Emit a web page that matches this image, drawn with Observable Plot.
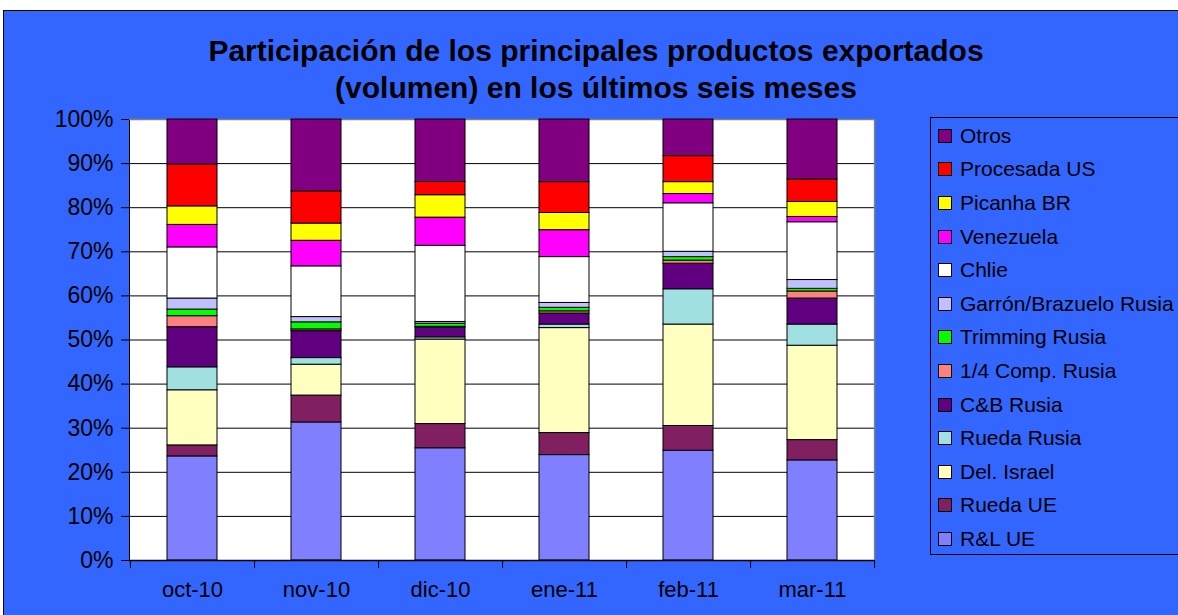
<!DOCTYPE html>
<html>
<head>
<meta charset="utf-8">
<script src="https://cdn.jsdelivr.net/npm/d3@7"></script>
<script src="https://cdn.jsdelivr.net/npm/@observablehq/plot@0.6"></script>
<style>
  html, body { margin: 0; padding: 0; background: #ffffff; overflow: hidden; }
  #wrap { position: relative; width: 1178px; height: 615px; overflow: hidden; font-family: "Liberation Sans", Arial, sans-serif; }
  #bg { position: absolute; left: 3px; top: 10px; width: 1200px; height: 620px; background: #3366FF; border: 1px solid #000; box-sizing: border-box; }
  #title { position: absolute; left: 0; top: 32px; width: 1192px; text-align: center; font-weight: bold; font-size: 30px; line-height: 37px; color: #000; }
  #chart { position: absolute; left: 0; top: 0; }
  #legend { position: absolute; left: 930px; top: 117px; width: 260px; height: 438px; border: 1px solid #000; box-sizing: border-box; padding-top: 1px; }
  .row { height: 33.6px; display: flex; align-items: center; font-size: 21px; color: #000; white-space: nowrap; }
  .sw { width: 12px; height: 12px; border: 1px solid #000; margin-left: 7px; margin-right: 8px; flex: none; }
</style>
</head>
<body>
<div id="wrap">
  <div id="bg"></div>
  <div id="chart"></div>
  <div id="title">Participación de los principales productos exportados<br>(volumen) en los últimos seis meses</div>
  <div id="legend"></div>
</div>
<script>
// Categories (months)
const months = ["oct-10", "nov-10", "dic-10", "ene-11", "feb-11", "mar-11"];
// Series, bottom to top (%)
const seriesNames = ["R&L UE", "Rueda UE", "Del. Israel", "Rueda Rusia", "C&B Rusia", "1/4 Comp. Rusia",
  "Trimming Rusia", "Garrón/Brazuelo Rusia", "Chlie", "Venezuela", "Picanha BR", "Procesada US", "Otros"];
const rlUE       = [23.6, 31.3, 25.5, 23.9, 24.9, 22.7];
const ruedaUE    = [2.5, 6.1, 5.5, 5.0, 5.6, 4.6];
const delIsrael  = [12.5, 7.0, 19.2, 23.8, 23.0, 21.4];
const ruedaRusia = [5.2, 1.5, 0.5, 0.8, 8.0, 4.8];
const cbRusia    = [9.1, 6.1, 2.2, 2.5, 5.8, 5.9];
const compRusia  = [2.5, 0.4, 0.2, 0.5, 0.7, 1.6];
const trimming   = [1.5, 1.6, 0.7, 0.8, 0.8, 0.6];
const garron     = [2.5, 1.2, 0.4, 1.1, 1.2, 2.0];
const chlie      = [11.6, 11.5, 17.3, 10.4, 11.0, 13.1];
const venezuela  = [5.1, 5.8, 6.4, 6.1, 2.1, 1.2];
const picanha    = [4.2, 3.9, 5.1, 3.9, 2.7, 3.4];
const procesada  = [9.5, 7.3, 3.0, 7.0, 5.9, 5.1];
const otros      = [10.2, 16.3, 14.2, 14.2, 8.3, 13.6];
const seriesValues = [rlUE, ruedaUE, delIsrael, ruedaRusia, cbRusia, compRusia, trimming, garron, chlie, venezuela, picanha, procesada, otros];
const seriesColors = ["#8080FF", "#802060", "#FFFFC0", "#A0E0E0", "#600080", "#FF8080",
  "#00FF00", "#C0C0FF", "#FFFFFF", "#FF00FF", "#FFFF00", "#FF0000", "#800080"];
const yTicks = [0, 0.1, 0.2, 0.3, 0.4, 0.5, 0.6, 0.7, 0.8, 0.9, 1.0];

const data = [];
seriesNames.forEach((s, si) => {
  months.forEach((m, mi) => {
    // normalise each month to 100%
    const total = seriesValues.reduce((a, arr) => a + arr[mi], 0);
    data.push({month: m, series: s, value: seriesValues[si][mi] / total});
  });
});

const W = 1178, H = 615, mL = 129, mR = 304, mT = 119, mB = 55;
const plotH = H - mT - mB;
const step = (W - mL - mR) / months.length;

const chart = Plot.plot({
  width: W, height: H,
  marginLeft: mL, marginRight: mR, marginTop: mT, marginBottom: mB,
  style: {background: "transparent", fontFamily: "Liberation Sans, Arial, sans-serif", fontSize: "22px", color: "#000", overflow: "visible"},
  x: {domain: months, paddingInner: 0.6, paddingOuter: 0.3, label: null, tickSize: 0, tickPadding: 21},
  y: {domain: [0, 1], ticks: yTicks, tickFormat: d3.format(".0%"), label: null, tickSize: 8, tickPadding: 8},
  color: {domain: seriesNames, range: seriesColors},
  marks: [
    Plot.frame({fill: "white", stroke: "#000"}),
    Plot.ruleY(yTicks.slice(1, -1), {stroke: "#000", strokeWidth: 1}),
    Plot.ruleY([1], {stroke: "#808080", strokeWidth: 1.5}),
    Plot.ruleX([months[months.length - 1]], {dx: step / 2, stroke: "#808080", strokeWidth: 1.5}),
    Plot.barY(data, {x: "month", y: "value", fill: "series", stroke: "#000", strokeWidth: 1}),
    Plot.ruleY([0], {stroke: "#000", strokeWidth: 1.5}),
    Plot.ruleX(months, {dx: step / 2, insetTop: plotH, insetBottom: -8, stroke: "#000"}),
    Plot.ruleX([months[0]], {dx: -step / 2, insetTop: plotH, insetBottom: -8, stroke: "#000"})
  ]
});
chart.querySelectorAll("g[aria-label='y-axis tick label'] text, g[aria-label='y-axis tick label']").forEach(e => e.setAttribute("font-size", "23px"));
document.getElementById("chart").appendChild(chart);

const legend = document.getElementById("legend");
for (let i = seriesNames.length - 1; i >= 0; i--) {
  const row = document.createElement("div");
  row.className = "row";
  const sw = document.createElement("div");
  sw.className = "sw";
  sw.style.background = seriesColors[i];
  const t = document.createElement("span");
  t.textContent = seriesNames[i];
  row.appendChild(sw); row.appendChild(t);
  legend.appendChild(row);
}
</script>
</body>
</html>
